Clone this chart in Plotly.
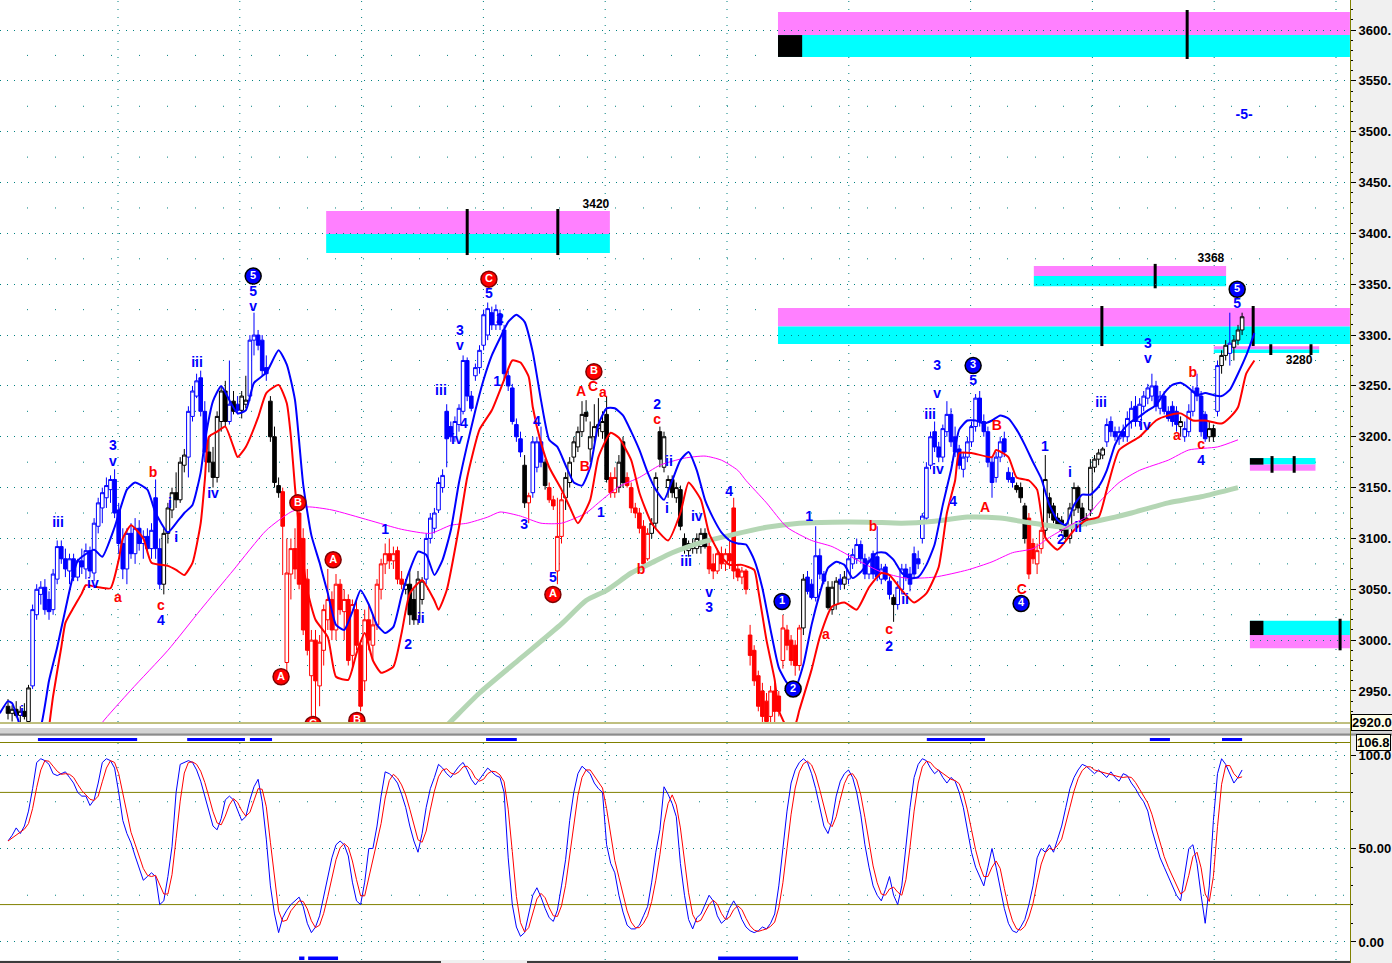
import plotly.graph_objects as go
import pandas as pd

# ---------------- data ----------------
opens = [
    2935, 2928, 2932, 2926, 2930, 2920, 2955, 3025, 3045, 3052,
    3040, 3030, 3060, 3092, 3080, 3068, 3080, 3062, 3078, 3070,
    3088, 3066, 3112, 3130, 3140, 3148, 3158, 3128, 3095, 3070,
    3105, 3085, 3110, 3095, 3102, 3090, 3140, 3090, 3055, 3105,
    3128, 3145, 3138, 3172, 3180, 3220, 3240, 3258, 3225, 3185,
    3175, 3160, 3215, 3245, 3215, 3235, 3232, 3226, 3232, 3240,
    3295, 3300, 3295, 3268, 3235, 3200, 3152, 3146, 2978, 3065,
    3090, 3125, 3100, 3060, 2965, 3000, 2955, 2990, 3020, 3040,
    3010, 3055, 3028, 3040, 2985, 3030, 2995, 2960, 3020, 2995,
    3015, 3050, 3075, 3085, 3078, 3088, 3060, 3050, 3055, 3040,
    3020, 3040, 3060, 3100, 3110, 3128, 3150, 3225, 3210, 3200,
    3212, 3225, 3275, 3240, 3260, 3268, 3290, 3300, 3322, 3310,
    3320, 3305, 3260, 3248, 3212, 3198, 3172, 3135, 3145, 3170,
    3195, 3175, 3150, 3138, 3068, 3102, 3140, 3155, 3180, 3190,
    3205, 3224, 3188, 3200, 3208, 3205, 3222, 3160, 3145, 3150,
    3195, 3160, 3150, 3130, 3125, 3112, 3080, 3105, 3115, 3205,
    3170, 3150, 3158, 3140, 3148, 3100, 3088, 3090, 3090, 3092,
    3105, 3092, 3075, 3068, 3085, 3075, 3085, 3130, 3070, 3062,
    3068, 3005, 2990, 2965, 2950, 2940, 2925, 2950, 2945, 2980,
    3010, 3000, 2995, 2975, 3012, 3062, 3055, 3042, 3083, 3065,
    3052, 3030, 3035, 3060, 3055, 3060, 3075, 3080, 3094, 3080,
    3065, 3085, 3082, 3060, 3072, 3058, 3042, 3035, 3050, 3070,
    3065, 3085, 3080, 3100, 3120, 3172, 3205, 3190, 3180, 3205,
    3222, 3200, 3188, 3168, 3180, 3195, 3210, 3238, 3215, 3205,
    3175, 3160, 3180, 3198, 3165, 3160, 3152, 3150, 3132, 3120,
    3095, 3075, 3090, 3108, 3140, 3132, 3120, 3118, 3110, 3100,
    3128, 3150, 3130, 3118, 3128, 3170, 3178, 3182, 3195, 3215,
    3205, 3198, 3205, 3200, 3215, 3230, 3215, 3230, 3238, 3240,
    3250, 3228, 3240, 3225, 3230, 3225, 3210, 3200, 3205, 3225,
    3248, 3240, 3222, 3200, 3208, 3225, 3270, 3280, 3282, 3288,
    3295, 3305]
highs = [
    2942, 2936, 2940, 2935, 2938, 2956, 3035, 3055, 3058, 3060,
    3048, 3070, 3098, 3098, 3090, 3085, 3085, 3080, 3090, 3095,
    3092, 3120, 3140, 3150, 3160, 3162, 3168, 3135, 3110, 3110,
    3115, 3120, 3118, 3108, 3110, 3115, 3158, 3100, 3110, 3135,
    3150, 3165, 3180, 3188, 3230, 3250, 3262, 3265, 3235, 3200,
    3190, 3225, 3250, 3255, 3275, 3245, 3240, 3245, 3260, 3300,
    3322, 3305, 3300, 3280, 3240, 3210, 3160, 3150, 3100, 3100,
    3110, 3135, 3110, 3070, 3010, 3010, 3005, 3035, 3070, 3048,
    3065, 3060, 3050, 3045, 3040, 3040, 3000, 3030, 3035, 3025,
    3060, 3080, 3095, 3100, 3092, 3092, 3068, 3060, 3070, 3050,
    3068, 3062, 3105, 3125, 3130, 3160, 3168, 3232, 3215, 3220,
    3232, 3280, 3278, 3245, 3272, 3290, 3325, 3332, 3328, 3330,
    3325, 3310, 3265, 3252, 3218, 3205, 3182, 3145, 3200, 3200,
    3210, 3178, 3155, 3142, 3140, 3145, 3165, 3180, 3200, 3210,
    3235, 3236, 3215, 3232, 3238, 3225, 3240, 3165, 3170, 3182,
    3200, 3165, 3155, 3135, 3130, 3118, 3110, 3120, 3165, 3210,
    3205, 3162, 3162, 3155, 3152, 3105, 3098, 3100, 3105, 3110,
    3110, 3098, 3085, 3090, 3092, 3090, 3098, 3140, 3075, 3072,
    3070, 3015, 2995, 2970, 2958, 2948, 2955, 2958, 2950, 3025,
    3015, 3005, 3000, 3015, 3065, 3068, 3060, 3112, 3090, 3068,
    3058, 3058, 3062, 3065, 3068, 3085, 3090, 3100, 3098, 3085,
    3082, 3088, 3112, 3075, 3075, 3062, 3045, 3058, 3075, 3075,
    3072, 3092, 3088, 3125, 3175, 3205, 3215, 3195, 3212, 3235,
    3228, 3210, 3192, 3185, 3200, 3215, 3242, 3245, 3222, 3210,
    3180, 3185, 3200, 3205, 3170, 3165, 3155, 3155, 3135, 3125,
    3100, 3095, 3112, 3182, 3145, 3135, 3125, 3122, 3115, 3135,
    3155, 3152, 3135, 3125, 3178, 3182, 3188, 3190, 3218, 3220,
    3210, 3210, 3212, 3225, 3235, 3240, 3238, 3245, 3252, 3262,
    3255, 3245, 3245, 3230, 3235, 3230, 3220, 3215, 3232, 3250,
    3262, 3245, 3225, 3215, 3212, 3275, 3285, 3295, 3322, 3300,
    3310, 3322]
lows = [
    2922, 2920, 2924, 2918, 2922, 2916, 2952, 3020, 3035, 3025,
    3020, 3025, 3055, 3075, 3062, 3055, 3058, 3058, 3065, 3060,
    3062, 3058, 3105, 3115, 3130, 3135, 3120, 3085, 3060, 3055,
    3080, 3075, 3088, 3080, 3085, 3080, 3080, 3050, 3045, 3095,
    3120, 3130, 3135, 3165, 3160, 3215, 3238, 3220, 3175, 3165,
    3150, 3155, 3205, 3210, 3212, 3222, 3222, 3218, 3228, 3235,
    3280, 3285, 3260, 3255, 3195, 3150, 3140, 3064, 2968, 3040,
    3060, 3050, 3005, 2985, 2925, 2915, 2935, 2975, 3010, 3000,
    3000, 3025, 3000, 2975, 2970, 2990, 2930, 2950, 2990, 2980,
    3010, 3040, 3065, 3070, 3070, 3055, 3050, 3045, 3015, 3015,
    3015, 3035, 3055, 3095, 3105, 3125, 3145, 3170, 3195, 3195,
    3205, 3222, 3235, 3225, 3255, 3262, 3285, 3295, 3305, 3305,
    3305, 3255, 3245, 3212, 3195, 3180, 3130, 3115, 3140, 3165,
    3170, 3148, 3135, 3128, 3055, 3095, 3128, 3150, 3175, 3185,
    3200, 3215, 3175, 3195, 3200, 3198, 3155, 3140, 3140, 3145,
    3150, 3150, 3125, 3120, 3105, 3070, 3078, 3100, 3110, 3170,
    3165, 3140, 3140, 3135, 3108, 3085, 3082, 3085, 3085, 3085,
    3090, 3065, 3060, 3065, 3070, 3068, 3070, 3060, 3058, 3055,
    3045, 2975, 2955, 2930, 2915, 2910, 2912, 2915, 2925, 2972,
    2990, 2975, 2965, 2970, 3005, 3045, 3040, 3038, 3060, 3055,
    3030, 3025, 3030, 3050, 3050, 3055, 3070, 3075, 3075, 3060,
    3060, 3060, 3058, 3055, 3058, 3040, 3018, 3030, 3045, 3058,
    3048, 3060, 3070, 3095, 3118, 3168, 3185, 3175, 3175, 3200,
    3190, 3180, 3168, 3160, 3175, 3190, 3205, 3210, 3200, 3170,
    3140, 3155, 3175, 3180, 3155, 3150, 3145, 3135, 3095, 3060,
    3075, 3065, 3085, 3100, 3120, 3115, 3110, 3105, 3098, 3095,
    3122, 3125, 3112, 3112, 3122, 3165, 3172, 3178, 3190, 3200,
    3196, 3192, 3195, 3195, 3208, 3210, 3210, 3225, 3232, 3235,
    3225, 3222, 3222, 3215, 3210, 3205, 3200, 3195, 3200, 3220,
    3235, 3200, 3195, 3195, 3195, 3220, 3262, 3275, 3270, 3275,
    3290, 3300]
closes = [
    2928, 2932, 2926, 2930, 2925, 2953, 3030, 3050, 3052, 3030,
    3028, 3065, 3092, 3080, 3070, 3080, 3062, 3078, 3072, 3088,
    3068, 3115, 3135, 3145, 3152, 3158, 3125, 3095, 3070, 3105,
    3085, 3110, 3095, 3102, 3090, 3108, 3090, 3055, 3105, 3130,
    3145, 3138, 3175, 3182, 3225, 3245, 3255, 3225, 3185, 3175,
    3160, 3220, 3245, 3215, 3232, 3225, 3226, 3240, 3236, 3295,
    3300, 3290, 3265, 3262, 3200, 3155, 3145, 3112, 3066, 3090,
    3070, 3055, 3010, 2990, 3000, 2960, 2998, 3030, 3040, 3010,
    3055, 3030, 3040, 2980, 3035, 2995, 2935, 3020, 3000, 3015,
    3055, 3075, 3085, 3078, 3085, 3060, 3055, 3055, 3025, 3020,
    3060, 3058, 3100, 3120, 3125, 3155, 3162, 3198, 3200, 3215,
    3228, 3275, 3240, 3228, 3268, 3285, 3320, 3326, 3310, 3325,
    3310, 3262, 3250, 3215, 3200, 3185, 3135, 3142, 3195, 3195,
    3175, 3152, 3138, 3132, 3102, 3138, 3160, 3175, 3195, 3205,
    3222, 3220, 3200, 3210, 3212, 3215, 3158, 3145, 3160, 3175,
    3155, 3152, 3130, 3125, 3110, 3075, 3105, 3115, 3160, 3178,
    3200, 3158, 3145, 3150, 3112, 3090, 3095, 3095, 3100, 3105,
    3092, 3070, 3068, 3085, 3075, 3085, 3078, 3068, 3062, 3068,
    3050, 2985, 2960, 2935, 2925, 2920, 2950, 2930, 2930, 3012,
    2995, 2980, 2975, 3012, 3060, 3048, 3042, 3083, 3065, 3058,
    3032, 3052, 3058, 3055, 3062, 3080, 3084, 3094, 3080, 3065,
    3078, 3065, 3062, 3070, 3060, 3045, 3035, 3052, 3070, 3062,
    3055, 3065, 3075, 3122, 3170, 3200, 3190, 3180, 3208, 3222,
    3195, 3185, 3172, 3180, 3195, 3210, 3238, 3215, 3205, 3175,
    3155, 3180, 3195, 3185, 3158, 3155, 3148, 3140, 3100, 3065,
    3080, 3088, 3108, 3158, 3125, 3118, 3112, 3108, 3102, 3130,
    3150, 3130, 3118, 3120, 3170, 3178, 3184, 3188, 3212, 3205,
    3200, 3205, 3200, 3218, 3228, 3215, 3232, 3240, 3248, 3250,
    3230, 3240, 3225, 3218, 3215, 3212, 3215, 3208, 3225, 3245,
    3240, 3205, 3198, 3208, 3200, 3270, 3280, 3290, 3292, 3295,
    3305, 3318]
# candle colour state per bar: b = blue, r = red, k = black
bar_colors = list(
    "kkkkkkbbbb" "bbbbbbbbbb" "bbbbbbbbbb" "bbbbbbbbkk" "kkkkbbbbbk"
    "kkkkbkbkkb" "bbbbkkkrrr" "rrrrrrrrrr" "rrrrrrrrrr" "rrrrrrrkkk"
    "kkbbbbbbbb" "bbbbbbbbbb" "bbbbbbkrbb" "bkrrrrkkkk" "kkkkkkkrrk"
    "krrrrrrkkk" "kkkkkkkkkk" "krrrrrrrrr" "rrrrrrrrrr" "rrrrkbbbbb"
    "kkkbkbbbbb" "bbbbbbkbbb" "bbbbbbbbbb" "bbbbbbbbbb" "bbbbbbkkkr"
    "rrrkkkkkkk" "kkkkkkkkbb" "bbbbbbbbbb" "bbbbbbkbbb" "bbbkkbkkbk"
    "kk")

# stochastic %K per bar
stoch_k = [
    54, 57, 61, 58, 62, 70, 82, 96, 98, 97,
    95, 90, 89, 90, 91, 88, 85, 80, 78, 78,
    73, 76, 85, 96, 98, 97, 93, 80, 65, 58,
    53, 46, 39, 33, 35, 37, 35, 20, 22, 35,
    51, 80, 95, 96, 97, 96, 92, 86, 78, 69,
    62, 60, 66, 76, 78, 76, 70, 65, 67, 76,
    83, 87, 75, 55, 30, 15, 5, 13, 17, 20,
    22, 24, 19, 10, 5, 8, 14, 24, 35, 45,
    52, 54, 52, 46, 32, 22, 20, 32, 50, 50,
    62, 78, 91, 90, 88, 85, 79, 72, 62, 54,
    48, 58, 72, 82, 88, 95, 93, 90, 88, 91,
    94, 96, 92, 87, 84, 87, 90, 93, 91, 89,
    88, 80, 45, 20, 8, 3, 5, 15, 25, 29,
    24, 18, 13, 11, 17, 30, 44, 65, 80, 90,
    94, 92, 90, 85, 82, 80, 52, 42, 37, 25,
    16, 9, 7, 7, 9, 14, 19, 32, 48, 60,
    83, 79, 74, 67, 42, 25, 12, 7, 13, 15,
    20, 25, 22, 14, 10, 12, 18, 22, 18, 12,
    8, 6, 5, 6, 8, 7, 10, 15, 30, 50,
    70, 85, 92, 96, 98, 96, 90, 82, 72, 62,
    58, 65, 78, 86, 90, 92, 88, 80, 68, 52,
    40, 30, 25, 22, 28, 35, 25, 20, 30, 50,
    72, 88, 95, 98, 97, 93, 90, 92, 88, 85,
    88, 86, 80, 72, 60, 48, 40, 35, 30, 40,
    50, 40, 28, 18, 10, 6, 5, 8, 12, 20,
    30, 45, 50, 48, 52, 48, 55, 62, 72, 82,
    88, 92, 95, 94, 92, 90, 92, 90, 88, 91,
    88, 86, 90, 89, 85, 82, 78, 75, 70, 60,
    52, 45, 40, 35, 30, 25, 22, 35, 50, 52,
    42, 25, 10, 30, 65, 90, 98, 95, 90, 85,
    88, 92]

# overlay averages: (bar, price)
blue_avg = [(-2, 2928), (0, 2940), (1, 2938), (3, 2915), (5, 2895), (8, 2915), (10, 2960),
            (12, 2993), (14, 3030), (17, 3078), (21, 3089), (23, 3082), (26, 3111), (29, 3148),
            (31, 3155), (34, 3148), (36, 3125), (39, 3106), (41, 3115), (43, 3125), (45, 3133),
            (47, 3165), (48, 3195), (50, 3235), (52, 3250), (54, 3236), (56, 3223), (58, 3226),
            (60, 3253), (63, 3263), (66, 3285), (68, 3271), (70, 3236), (72, 3153), (74, 3103),
            (76, 3076), (78, 3046), (80, 3015), (82, 3010), (84, 3028), (86, 3049), (88, 3035),
            (90, 3015), (92, 3007), (94, 3013), (96, 3044), (98, 3069), (100, 3087), (102, 3084),
            (104, 3064), (106, 3079), (108, 3108), (110, 3155), (112, 3192), (114, 3226),
            (116, 3256), (118, 3280), (120, 3297), (122, 3313), (124, 3320), (126, 3313),
            (128, 3283), (130, 3236), (132, 3197), (134, 3190), (136, 3172), (138, 3155),
            (140, 3152), (142, 3170), (144, 3212), (146, 3228), (148, 3228), (150, 3221),
            (152, 3205), (154, 3187), (156, 3165), (158, 3148), (160, 3138), (162, 3157),
            (164, 3177), (166, 3185), (168, 3167), (170, 3138), (172, 3120), (174, 3106),
            (176, 3098), (178, 3095), (180, 3094), (182, 3079), (184, 3051), (186, 3010),
            (188, 2973), (190, 2958), (192, 2953), (194, 2976), (196, 3015), (198, 3046),
            (200, 3071), (202, 3077), (204, 3074), (206, 3061), (208, 3067), (210, 3077),
            (212, 3086), (214, 3086), (216, 3079), (218, 3066), (220, 3061), (222, 3062),
            (224, 3074), (226, 3094), (228, 3133), (230, 3167), (232, 3207), (234, 3216),
            (236, 3216), (238, 3213), (240, 3216), (242, 3221), (244, 3218), (246, 3207),
            (248, 3192), (250, 3175), (252, 3159), (254, 3133), (256, 3118), (258, 3113),
            (260, 3133), (262, 3143), (264, 3143), (266, 3151), (268, 3167), (270, 3192),
            (272, 3207), (274, 3215), (276, 3220), (278, 3226), (280, 3231), (282, 3243),
            (284, 3251), (286, 3253), (288, 3248), (290, 3241), (292, 3243), (294, 3241),
            (296, 3240), (298, 3246), (300, 3262), (302, 3280), (304, 3302)]
red_avg = [(10, 2914), (11, 2945), (13, 2993), (14, 3017), (16, 3032), (18, 3046), (19, 3054),
           (22, 3052), (25, 3051), (27, 3079), (28, 3100), (30, 3113), (33, 3100), (35, 3076),
           (39, 3073), (41, 3069), (43, 3064), (45, 3076), (47, 3115), (48, 3157), (49, 3200),
           (51, 3205), (53, 3210), (55, 3190), (56, 3180), (58, 3190), (61, 3219), (63, 3243),
           (66, 3251), (68, 3233), (69, 3200), (70, 3150), (71, 3110), (73, 3049), (75, 3020),
           (78, 3003), (80, 2964), (83, 2961), (85, 2987), (87, 3007), (89, 2980), (91, 2968),
           (94, 2974), (96, 3007), (98, 3046), (101, 3059), (104, 3039), (105, 3030), (107, 3049),
           (110, 3111), (112, 3160), (115, 3207), (118, 3226), (121, 3256), (123, 3275),
           (125, 3273), (127, 3259), (128, 3229), (130, 3194), (132, 3170), (135, 3148),
           (137, 3131), (139, 3115), (142, 3138), (144, 3180), (147, 3204), (149, 3199),
           (152, 3177), (154, 3145), (157, 3115), (161, 3098), (164, 3125), (166, 3155),
           (169, 3138), (171, 3105), (174, 3082), (176, 3074), (179, 3074), (182, 3069),
           (183, 3049), (185, 3000), (187, 2961), (188, 2931), (190, 2915), (192, 2917),
           (193, 2931), (196, 2971), (198, 3003), (201, 3033), (204, 3037), (207, 3030),
           (210, 3052), (213, 3066), (215, 3064), (218, 3049), (221, 3037), (224, 3046),
           (227, 3072), (229, 3125), (231, 3157), (232, 3184), (235, 3184), (240, 3180),
           (241, 3187), (244, 3180), (246, 3160), (249, 3157), (251, 3148), (253, 3101),
           (256, 3089), (260, 3108), (263, 3118), (266, 3121), (268, 3148), (271, 3187),
           (276, 3200), (280, 3216), (283, 3221), (286, 3223), (289, 3216), (292, 3216),
           (296, 3213), (298, 3219), (300, 3229), (302, 3262), (304, 3275)]
magenta_avg = [(22, 2912), (23, 2919), (30, 2951), (39, 2990), (47, 3030), (55, 3069), (63, 3108),
               (69, 3126), (73, 3131), (79, 3128), (88, 3118), (96, 3109), (103, 3105), (108, 3113),
               (112, 3115), (117, 3121), (120, 3126), (125, 3122), (130, 3115), (135, 3115),
               (141, 3125), (144, 3135), (149, 3151), (154, 3160), (159, 3172), (165, 3179),
               (170, 3181), (174, 3177), (178, 3167), (180, 3157), (185, 3135), (190, 3111),
               (196, 3098), (201, 3092), (207, 3079), (213, 3067), (219, 3061), (226, 3062),
               (234, 3069), (240, 3077), (245, 3086), (250, 3090), (254, 3101), (260, 3115),
               (263, 3121), (266, 3135), (271, 3155), (276, 3167), (283, 3177), (288, 3187),
               (295, 3190), (300, 3197)]
green_avg = [(100, 2890), (106, 2912), (115, 2948), (125, 2982), (135, 3016), (141, 3039),
             (146, 3049), (152, 3066), (157, 3076), (162, 3086), (169, 3096), (177, 3104),
             (185, 3111), (193, 3115), (201, 3116), (210, 3116), (218, 3115), (226, 3117),
             (234, 3121), (242, 3120), (250, 3115), (258, 3111), (263, 3115), (270, 3121),
             (274, 3125), (283, 3135), (291, 3141), (300, 3150)]

# projection bands: bar span, three price levels, colour order, tick bars, black block
target_bands = [
    dict(x0=187.8, x1=327.3, top=3617.7, mid=3595.0, bot=3573.5, upper='m', ticks=[287.6], block=(187.8, 193.7)),
    dict(x0=77.6, x1=146.8, top=3422.0, mid=3399.4, bot=3380.7, upper='m', ticks=[112.0, 134.1], block=None),
    dict(x0=250.2, x1=297.1, top=3368.0, mid=3358.0, bot=3348.0, upper='m', ticks=[279.8], block=None),
    dict(x0=187.8, x1=327.3, top=3326.6, mid=3308.4, bot=3291.2, upper='m', ticks=[266.8, 303.7], block=None),
    dict(x0=294.1, x1=319.8, top=3289.0, mid=3285.8, bot=3282.4, upper='m', ticks=[308.0, 317.8], block=None),
    dict(x0=302.9, x1=318.9, top=3179.0, mid=3172.6, bot=3166.6, upper='c', ticks=[308.3, 313.7], block=(302.9, 306.2)),
    dict(x0=302.9, x1=327.3, top=3019.0, mid=3005.0, bot=2992.0, upper='c', ticks=[324.9], block=(302.9, 306.2)),
]
band_values = [("3420", 143.4, 3428), ("3368", 293.4, 3375), ("3280", 314.9, 3274.5)]

# wave labels: (text, bar, price)
blue_labels = [("i", 3.4, 2929), ("iii", 12.2, 3115), ("iv", 20.7, 3055), ("3", 25.6, 3190), ("v", 25.6, 3175),
               ("4", 37.3, 3018), ("i", 39.5, 3133), ("i", 41, 3100), ("iii", 46.1, 3272), ("iv", 50, 3143),
               ("5", 59.8, 3342), ("v", 59.8, 3327), ("1", 92, 3108), ("2", 97.6, 2995), ("ii", 100.7, 3020),
               ("iii", 105.6, 3245), ("3", 110.2, 3304), ("v", 110.2, 3289), ("4", 111.2, 3212),
               ("iv", 109.5, 3196), ("5", 117.3, 3340), ("2", 120, 3315), ("1", 119.3, 3253),
               ("3", 125.9, 3113), ("4", 129, 3214), ("5", 132.9, 3061), ("1", 144.6, 3125),
               ("2", 158.3, 3231), ("ii", 161.2, 3175), ("i", 160.7, 3128), ("iii", 165.4, 3076),
               ("iv", 168, 3121), ("v", 171, 3046), ("3", 171, 3031), ("4", 175.9, 3145), ("1", 195.4, 3121),
               ("2", 214.9, 2993), ("ii", 218.8, 3039), ("3", 226.6, 3269), ("v", 226.6, 3242),
               ("iii", 224.9, 3221), ("iv", 226.8, 3167), ("4", 230.5, 3135), ("5", 235.4, 3254),
               ("1", 252.9, 3189), ("2", 256.8, 3098), ("i", 259, 3164), ("ii", 261, 3110),
               ("iii", 266.6, 3233), ("iv", 277.3, 3210), ("3", 278, 3291), ("v", 278, 3276),
               ("4", 291, 3176), ("5", 299.8, 3330), ("-5-", 301.5, 3516)]
red_labels = [("a", 26.8, 3041), ("b", 35.4, 3164), ("c", 37.3, 3033), ("A", 139.8, 3244), ("C", 142.7, 3248),
              ("a", 145.1, 3243), ("B", 140.7, 3170), ("b", 154.4, 3068), ("c", 158.3, 3216),
              ("a", 199.5, 3005), ("b", 211, 3111), ("c", 214.9, 3009), ("A", 238.3, 3129),
              ("B", 241.2, 3210), ("C", 247.3, 3049), ("a", 285.1, 3200), ("b", 289, 3262), ("c", 291, 3191)]
circle_labels = [("5", 59.8, 3358, 'b'), ("B", 70.7, 3135, 'r'), ("A", 66.6, 2964, 'r'), ("A", 79.3, 3079, 'r'),
                 ("C", 74.4, 2917, 'r'), ("B", 85.1, 2921, 'r'), ("C", 117.3, 3355, 'r'), ("A", 132.9, 3045, 'r'),
                 ("B", 142.9, 3264, 'r'), ("1", 188.8, 3038, 'b'), ("2", 191.5, 2952, 'b'),
                 ("3", 235.4, 3270, 'b'), ("4", 247.1, 3036, 'b'), ("5", 299.8, 3345, 'b')]

# signal markers (bar spans)
top_signals = [(7.3, 31.5), (43.7, 57.8), (59.0, 64.4), (116.6, 124.1), (224.1, 238.3), (278.5, 283.4), (296.1, 301.0)]
bottom_signals = [(71.0, 72.3), (73.2, 80.5), (173.2, 192.7)]

# ---------------- figure ----------------
W, H = 1392, 963
PLOT_W = 1350
XR = [-8 / 4.1, -8 / 4.1 + PLOT_W / 4.1]
P_RANGE = [2919.5, 3629.5]
S_RANGE = [-9.63, 106.95]
P_DOM = [1 - 722 / H, 1.0]
S_DOM = [1 - 960 / H, 1 - 742 / H]

BLUE, RED, BLACK = '#0000ff', '#ff0000', '#000000'
MAG, CYAN, TEAL, OLIVE = '#ff80ff', '#00ffff', '#008080', '#808000'
COLS = {'b': BLUE, 'r': RED, 'k': BLACK}
FONT = 'Liberation Sans'


def py(px):
    return 1 - px / H


fig = go.Figure()

# long average under candles
fig.add_trace(go.Scatter(x=[p[0] for p in green_avg], y=[p[1] for p in green_avg], mode='lines',
                         line=dict(color='#b4d6b4', width=5, shape='spline', smoothing=0.6),
                         hoverinfo='skip', xaxis='x', yaxis='y'))

bars = list(range(len(closes)))
for code, col in COLS.items():
    idx = [i for i in bars if bar_colors[i] == code]
    fig.add_trace(go.Candlestick(
        x=[bars[i] for i in idx], open=[opens[i] for i in idx], high=[highs[i] for i in idx],
        low=[lows[i] for i in idx], close=[closes[i] for i in idx],
        increasing=dict(line=dict(color=col, width=1), fillcolor='white'),
        decreasing=dict(line=dict(color=col, width=1), fillcolor=col),
        whiskerwidth=0, hoverinfo='skip', xaxis='x', yaxis='y'))

fig.add_trace(go.Scatter(x=[p[0] for p in magenta_avg], y=[p[1] for p in magenta_avg], mode='lines',
                         line=dict(color='#ff00ff', width=1, shape='spline', smoothing=0.6),
                         hoverinfo='skip', xaxis='x', yaxis='y'))
fig.add_trace(go.Scatter(x=[p[0] for p in blue_avg], y=[p[1] for p in blue_avg], mode='lines',
                         line=dict(color=BLUE, width=2, shape='spline', smoothing=0.5),
                         hoverinfo='skip', xaxis='x', yaxis='y'))
fig.add_trace(go.Scatter(x=[p[0] for p in red_avg], y=[p[1] for p in red_avg], mode='lines',
                         line=dict(color=RED, width=2, shape='spline', smoothing=0.5),
                         hoverinfo='skip', xaxis='x', yaxis='y'))

# wave labels
for labels, col in ((blue_labels, BLUE), (red_labels, RED)):
    fig.add_trace(go.Scatter(x=[l[1] for l in labels], y=[l[2] for l in labels], text=[l[0] for l in labels],
                             mode='text', textposition='middle center',
                             textfont=dict(family=FONT, size=14, color=col, weight='bold'),
                             hoverinfo='skip', xaxis='x', yaxis='y'))
for code in ('b', 'r'):
    sub = [c for c in circle_labels if c[3] == code]
    fig.add_trace(go.Scatter(x=[c[1] for c in sub], y=[c[2] for c in sub], text=[c[0] for c in sub],
                             mode='markers+text', textposition='middle center',
                             marker=dict(size=16, color=COLS[code],
                                         line=dict(color='#000000' if code == 'b' else '#800000', width=1.5)),
                             textfont=dict(family=FONT, size=11, color='white', weight='bold'),
                             hoverinfo='skip', xaxis='x', yaxis='y'))
fig.add_trace(go.Scatter(x=[v[1] for v in band_values], y=[v[2] for v in band_values], text=[v[0] for v in band_values],
                         mode='text', textposition='middle center',
                         textfont=dict(family=FONT, size=12, color='black', weight='bold'),
                         hoverinfo='skip', xaxis='x', yaxis='y'))

# stochastic
stoch_d = pd.Series(stoch_k, dtype=float).rolling(3, min_periods=1).mean().tolist()
fig.add_trace(go.Scatter(x=bars, y=stoch_k, mode='lines', line=dict(color=BLUE, width=1),
                         hoverinfo='skip', xaxis='x2', yaxis='y2'))
fig.add_trace(go.Scatter(x=bars, y=stoch_d, mode='lines', line=dict(color=RED, width=1),
                         hoverinfo='skip', xaxis='x2', yaxis='y2'))

shapes = []
# vertical dotted grid columns (both panes)
for k in range(11):
    xv = (118 - 8) / 4.1 + k * 121.8 / 4.1
    for dom in (P_DOM, S_DOM):
        shapes.append(dict(type='line', xref='x', yref='paper', x0=xv, x1=xv, y0=dom[0], y1=dom[1],
                           line=dict(color=TEAL, width=1, dash='1px,7px'), layer='below'))
# sparse dot rows
for lv in range(2975, 3600, 50):
    shapes.append(dict(type='line', xref='paper', yref='y', x0=27 / PLOT_W, x1=1, y0=lv, y1=lv,
                       line=dict(color=TEAL, width=1, dash='1px,27px'), layer='below'))
for lv in (25, 75):
    shapes.append(dict(type='line', xref='paper', yref='y2', x0=27 / PLOT_W, x1=1, y0=lv, y1=lv,
                       line=dict(color=TEAL, width=1, dash='1px,27px'), layer='below'))

# bands
for b in target_bands:
    up_col, lo_col = (MAG, CYAN) if b['upper'] == 'm' else (CYAN, MAG)
    shapes.append(dict(type='rect', xref='x', yref='y', x0=b['x0'], x1=b['x1'], y0=b['mid'], y1=b['top'],
                       fillcolor=up_col, line=dict(width=0), layer='below'))
    shapes.append(dict(type='rect', xref='x', yref='y', x0=b['x0'], x1=b['x1'], y0=b['bot'], y1=b['mid'],
                       fillcolor=lo_col, line=dict(width=0), layer='below'))
    if b['block']:
        if b['upper'] == 'm':
            y0, y1 = b['bot'], b['mid']
        else:
            y0, y1 = b['mid'], b['top']
        shapes.append(dict(type='rect', xref='x', yref='y', x0=b['block'][0], x1=b['block'][1], y0=y0, y1=y1,
                           fillcolor=BLACK, line=dict(width=0), layer='below'))
    for t in b['ticks']:
        shapes.append(dict(type='line', xref='x', yref='y', x0=t, x1=t, y0=b['bot'] - 2, y1=b['top'] + 2,
                           line=dict(color=BLACK, width=3), layer='below'))

# separator between panes
shapes.append(dict(type='rect', xref='paper', yref='paper', x0=0, x1=1, y0=py(742), y1=py(722),
                   fillcolor='white', line=dict(width=0), layer='above'))
shapes.append(dict(type='rect', xref='paper', yref='paper', x0=0, x1=W / PLOT_W, y0=py(736), y1=py(728),
                   fillcolor='#d4d4d4', line=dict(width=0), layer='above'))
shapes.append(dict(type='line', xref='paper', yref='paper', x0=0, x1=W / PLOT_W, y0=py(734.5), y1=py(734.5),
                   line=dict(color='#8c8c8c', width=2), layer='above'))
shapes.append(dict(type='line', xref='paper', yref='paper', x0=0, x1=1.0, y0=py(723), y1=py(723),
                   line=dict(color=OLIVE, width=1), layer='above'))
shapes.append(dict(type='line', xref='paper', yref='paper', x0=0, x1=1.0, y0=py(742.5), y1=py(742.5),
                   line=dict(color=OLIVE, width=1), layer='above'))
for lv in (20, 80):
    shapes.append(dict(type='line', xref='paper', yref='y2', x0=0, x1=1, y0=lv, y1=lv,
                       line=dict(color=OLIVE, width=1), layer='below'))
shapes.append(dict(type='line', xref='paper', yref='paper', x0=1350.5 / PLOT_W, x1=1350.5 / PLOT_W, y0=0, y1=1,
                   line=dict(color=OLIVE, width=1), layer='above'))

# signal markers
for a, b in top_signals:
    shapes.append(dict(type='rect', xref='x', yref='paper', x0=a, x1=b, y0=py(741), y1=py(738),
                       fillcolor=BLUE, line=dict(width=0), layer='above'))
for a, b in bottom_signals:
    shapes.append(dict(type='rect', xref='x', yref='paper', x0=a, x1=b, y0=py(960), y1=py(956.5),
                       fillcolor=BLUE, line=dict(width=0), layer='above'))
shapes.append(dict(type='line', xref='paper', yref='paper', x0=0, x1=441 / PLOT_W, y0=py(962), y1=py(962),
                   line=dict(color=BLACK, width=1.5), layer='above'))
shapes.append(dict(type='line', xref='paper', yref='paper', x0=527 / PLOT_W, x1=1, y0=py(962), y1=py(962),
                   line=dict(color=BLACK, width=1.5), layer='above'))

tickfont = dict(family=FONT, size=13, color='black', weight='bold')
fig.update_layout(
    width=W, height=H, margin=dict(l=0, r=W - PLOT_W, t=0, b=0),
    paper_bgcolor='#f0f0f0', plot_bgcolor='white', showlegend=False,
    boxmode='overlay', boxgap=0.12, boxgroupgap=0,
    xaxis=dict(domain=[0, 1], range=XR, visible=False, anchor='y', rangeslider=dict(visible=False), fixedrange=True),
    xaxis2=dict(domain=[0, 1], range=XR, visible=False, anchor='y2', fixedrange=True),
    yaxis=dict(domain=P_DOM, range=P_RANGE, side='right', anchor='x', automargin=False,
               tickmode='array', tickvals=list(range(2950, 3601, 50)),
               ticktext=[f"{v}." for v in range(2950, 3601, 50)],
               ticks='outside', ticklen=5, tickcolor='black', tickfont=tickfont,
               showgrid=True, gridcolor=TEAL, griddash='1px,6px', gridwidth=1,
               zeroline=False, showline=False, fixedrange=True,
               minor=dict(ticks='outside', ticklen=2, tickcolor='black', dtick=10, showgrid=False)),
    yaxis2=dict(domain=S_DOM, range=S_RANGE, side='right', anchor='x2', automargin=False,
                tickmode='array', tickvals=[0, 50, 100], ticktext=['0.00', '50.00', '100.0'],
                ticks='outside', ticklen=5, tickcolor='black', tickfont=tickfont,
                showgrid=True, gridcolor=TEAL, griddash='1px,6px', gridwidth=1,
                zeroline=False, showline=False, fixedrange=True,
                minor=dict(ticks='outside', ticklen=2, tickcolor='black', dtick=10, showgrid=False)),
    shapes=shapes,
    annotations=[
        dict(xref='paper', yref='paper', x=1372 / PLOT_W, y=py(722), text='2920.0', showarrow=False,
             font=tickfont, bgcolor='#ffffe8', bordercolor='black', borderwidth=1, borderpad=0,
             xanchor='center', yanchor='middle'),
        dict(xref='paper', yref='paper', x=1374 / PLOT_W, y=py(742), text='106.8', showarrow=False,
             font=tickfont, bgcolor='#ffffe8', bordercolor='black', borderwidth=1, borderpad=0,
             xanchor='center', yanchor='middle'),
    ],
)

fig.write_html("out.html", config={'displayModeBar': False},
               post_script="document.body.style.margin='0px';document.body.style.padding='0px';"
                           "document.body.style.overflow='hidden';")
